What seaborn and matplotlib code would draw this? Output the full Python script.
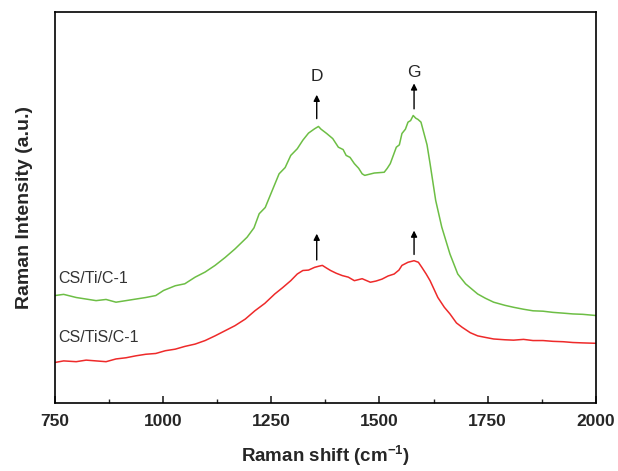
import pandas as pd
import matplotlib
matplotlib.use("Agg")
import matplotlib.pyplot as plt
import seaborn as sns
from matplotlib.ticker import MultipleLocator

# Raman spectra (intensity in arbitrary units, 0-1 of plot height)
shift_ti = [750, 770, 799, 822, 845, 868, 891, 914, 937, 960, 983, 1001, 1028, 1050, 1074,
            1097, 1120, 1143, 1166, 1194, 1210, 1222, 1236, 1249, 1268, 1282, 1295, 1310,
            1323, 1336, 1350, 1359, 1365, 1378, 1392, 1405, 1416, 1423, 1432, 1442, 1452,
            1460, 1466, 1488, 1511, 1518, 1525, 1539, 1546, 1552, 1560, 1566, 1572, 1578,
            1584, 1589, 1596, 1603, 1610, 1617, 1630, 1644, 1663, 1681, 1699, 1727, 1745,
            1764, 1790, 1810, 1833, 1855, 1878, 1901, 1925, 1947, 1970, 2000]
int_ti = [0.275, 0.278, 0.270, 0.266, 0.262, 0.265, 0.258, 0.262, 0.266, 0.270, 0.275, 0.288,
          0.300, 0.305, 0.322, 0.335, 0.352, 0.372, 0.394, 0.424, 0.448, 0.484, 0.500, 0.535,
          0.586, 0.602, 0.633, 0.650, 0.672, 0.690, 0.701, 0.707, 0.700, 0.689, 0.676, 0.654,
          0.648, 0.633, 0.628, 0.612, 0.600, 0.586, 0.582, 0.588, 0.590, 0.600, 0.612, 0.654,
          0.660, 0.689, 0.700, 0.718, 0.722, 0.735, 0.728, 0.725, 0.718, 0.689, 0.660, 0.612,
          0.518, 0.450, 0.381, 0.330, 0.305, 0.279, 0.268, 0.258, 0.250, 0.245, 0.240, 0.236,
          0.235, 0.232, 0.230, 0.228, 0.227, 0.224]

shift_tis = [750, 770, 799, 822, 845, 868, 891, 914, 937, 960, 983, 1005, 1028, 1050, 1074,
             1097, 1120, 1143, 1166, 1190, 1212, 1235, 1258, 1276, 1295, 1310, 1323, 1336,
             1350, 1360, 1368, 1378, 1387, 1400, 1414, 1428, 1442, 1460, 1479, 1492, 1506,
             1520, 1534, 1545, 1552, 1566, 1580, 1590, 1598, 1608, 1617, 1635, 1650, 1663,
             1678, 1691, 1710, 1727, 1745, 1764, 1790, 1810, 1833, 1855, 1878, 1901, 1925,
             1947, 1970, 2000]
int_tis = [0.104, 0.108, 0.106, 0.110, 0.108, 0.106, 0.113, 0.116, 0.121, 0.125, 0.127, 0.134,
           0.138, 0.145, 0.151, 0.160, 0.172, 0.185, 0.198, 0.215, 0.236, 0.255, 0.279, 0.295,
           0.313, 0.330, 0.339, 0.340, 0.347, 0.350, 0.352, 0.345, 0.339, 0.332, 0.326, 0.322,
           0.313, 0.318, 0.309, 0.312, 0.317, 0.325, 0.330, 0.340, 0.352, 0.360, 0.364, 0.360,
           0.347, 0.330, 0.313, 0.270, 0.245, 0.228, 0.205, 0.194, 0.180, 0.172, 0.168, 0.164,
           0.162, 0.161, 0.163, 0.160, 0.160, 0.158, 0.157, 0.155, 0.154, 0.153]

samples = ["CS/Ti/C-1", "CS/TiS/C-1"]
peak_names = ["D", "G"]
peak_pos = [1355, 1580]

color_green = '#6DBE45'
color_red = '#EE2A2A'

df = pd.concat([
    pd.DataFrame({'shift': shift_ti, 'intensity': int_ti, 'sample': samples[0]}),
    pd.DataFrame({'shift': shift_tis, 'intensity': int_tis, 'sample': samples[1]}),
])

sns.set_style("ticks")
plt.rcParams['font.family'] = ['Liberation Sans', 'DejaVu Sans']
plt.rcParams['mathtext.fontset'] = 'custom'
plt.rcParams['mathtext.rm'] = 'Liberation Sans'
plt.rcParams['mathtext.bf'] = 'Liberation Sans:bold'

fig = plt.figure(figsize=(6.18, 4.71), dpi=100)
ax = fig.add_axes([0.089, 0.144, 0.875, 0.831])

sns.lineplot(data=df, x='shift', y='intensity', hue='sample', estimator=None,
             palette=[color_green, color_red], lw=1.1, legend=False, ax=ax)

# sample labels at left
ax.text(757, 0.300, samples[0], fontsize=11.5, color='#333333', va='bottom')
ax.text(757, 0.148, samples[1], fontsize=11.5, color='#333333', va='bottom')

# peak arrows (upper curve and lower curve)
arrows_up = [(0.727, 0.788), (0.752, 0.817)]
arrows_low = [(0.366, 0.433), (0.380, 0.441)]
for i in range(2):
    for y0, y1 in (arrows_up[i], arrows_low[i]):
        ax.annotate('', xy=(peak_pos[i], y1), xytext=(peak_pos[i], y0),
                    arrowprops=dict(arrowstyle='-|>', color='black', lw=1.0,
                                    mutation_scale=9, shrinkA=0, shrinkB=0))
ax.text(peak_pos[0], 0.834, peak_names[0], ha='center', va='center', fontsize=12.5)
ax.text(peak_pos[1], 0.846, peak_names[1], ha='center', va='center', fontsize=12.5)

ax.set_xlim(750, 2000)
ax.set_ylim(0, 1)
ax.xaxis.set_major_locator(MultipleLocator(250))
ax.xaxis.set_minor_locator(MultipleLocator(125))
ax.tick_params(axis='x', which='major', direction='in', length=5, width=1.2, top=False, pad=8)
ax.tick_params(axis='x', which='minor', direction='in', length=3, width=1.0, top=False)
ax.tick_params(axis='y', left=False, labelleft=False)
for lab in ax.get_xticklabels():
    lab.set_fontweight('bold')
    lab.set_fontsize(12.5)
for sp in ax.spines.values():
    sp.set_linewidth(1.2)
    sp.set_color('black')

ax.set_xlabel('Raman shift (cm$^{\\mathbf{-1}}$)', fontsize=13.5, fontweight='bold', labelpad=10)
ax.set_ylabel('Raman Intensity (a.u.)', fontsize=14, fontweight='bold', labelpad=16)

fig.savefig('out.png', dpi=100)
